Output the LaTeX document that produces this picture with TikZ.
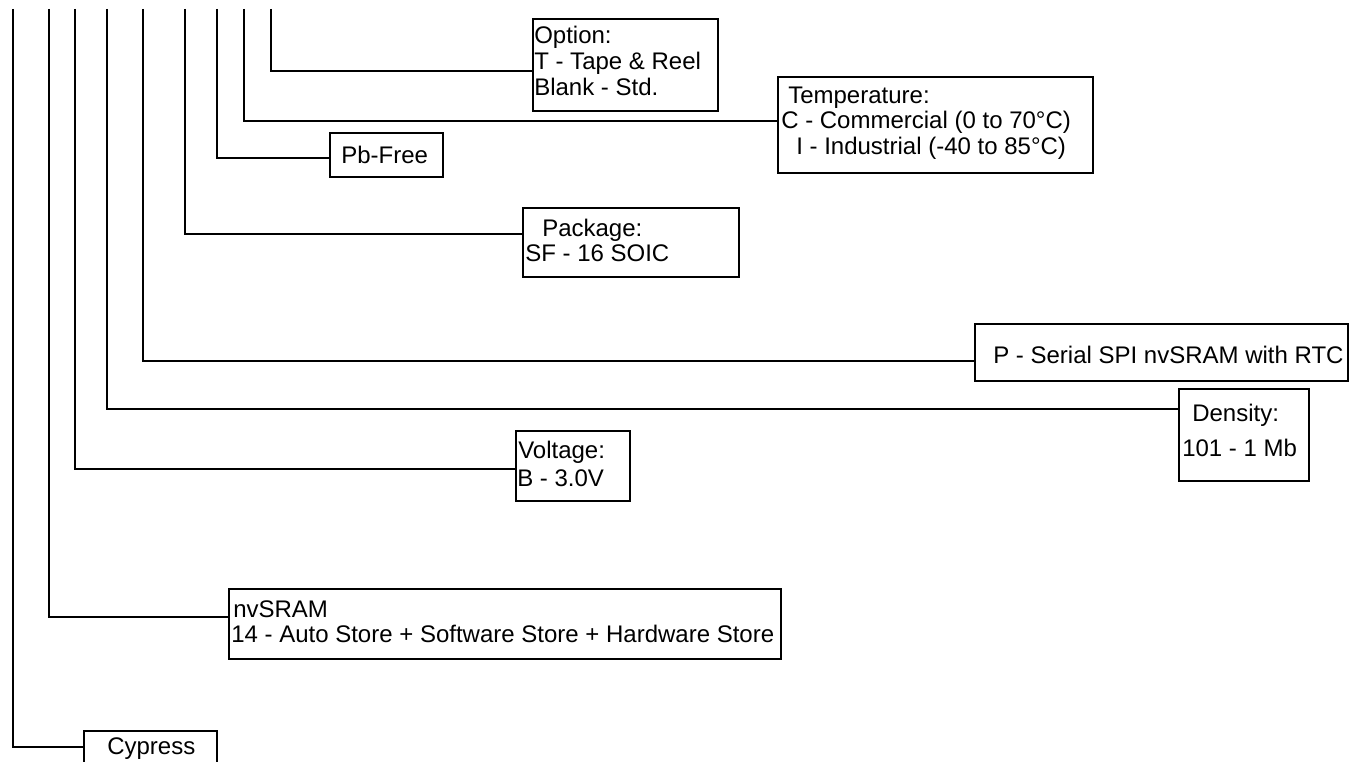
\documentclass[tikz,border=0pt]{standalone}
\usepackage{fontspec}
\setmainfont{Liberation Sans}
\usetikzlibrary{fit}
\begin{document}
\begin{tikzpicture}[x=0.75pt,y=-0.75pt,
  box/.style={draw,line width=1.3pt,inner sep=0pt},
  conn/.style={line width=1.3pt},
  txt/.style={anchor=base west,inner sep=0pt,font=\fontsize{18pt}{19.5pt}\selectfont}]
\clip (0,0) rectangle (1356,762);
% top ends of the vertical lines
\coordinate (v1) at (13,9);
\coordinate (v2) at (49,9);
\coordinate (v3) at (75,9);
\coordinate (v4) at (107,9);
\coordinate (v5) at (143,9);
\coordinate (v6) at (185,9);
\coordinate (v7) at (217,9);
\coordinate (v8) at (244,9);
\coordinate (v9) at (271,9);
% boxes
\node[box,fit={(533,19) (718,111)}] (opt) {};
\node[box,fit={(778,77) (1093,173)}] (temp) {};
\node[box,fit={(330,133) (443,177)}] (pb) {};
\node[box,fit={(523,208) (739,277)}] (pkg) {};
\node[box,fit={(975,324) (1348,381)}] (ser) {};
\node[box,fit={(1179,389) (1309,481)}] (den) {};
\node[box,fit={(516,431) (630,501)}] (volt) {};
\node[box,fit={(229,589) (781,659)}] (nv) {};
\node[box,fit={(84,731) (217,780)}] (cy) {};
% texts
\node[txt] (opt1) at (534,44) {Option:};
\node[txt] (opt2) at (534,70) {T - Tape \& Reel};
\node[txt] (opt3) at (534,96) {Blank - Std.};
\node[txt] (temp1) at (788,104) {Temperature:};
\node[txt] (temp2) at (781,129) {C - Commercial (0 to 70°C)};
\node[txt] (temp3) at (796,155) {I - Industrial (-40 to 85°C)};
\node[txt] (pb1) at (341,164) {Pb-Free};
\node[txt] (pkg1) at (542,237) {Package:};
\node[txt] (pkg2) at (525,262) {SF - 16 SOIC};
\node[txt] (ser1) at (993,364) {P - Serial SPI nvSRAM with RTC};
\node[txt] (den1) at (1192,422) {Density:};
\node[txt] (den2) at (1182,457) {101 - 1 Mb};
\node[txt] (volt1) at (518,459) {Voltage:};
\node[txt] (volt2) at (517,487) {B - 3.0V};
\node[txt] (nv1) at (233,617) {nvSRAM};
\node[txt] (nv2) at (231,642) {14 - Auto Store + Software Store + Hardware Store};
\node[txt] (cy1) at (107,754) {Cypress};
% connectors
\draw[conn] (v9) |- (opt.west |- 0,71);
\draw[conn] (v8) |- (temp.west |- 0,121);
\draw[conn] (v7) |- (pb.west |- 0,158);
\draw[conn] (v6) |- (pkg.west |- 0,234);
\draw[conn] (v5) |- (ser.west |- 0,361);
\draw[conn] (v4) |- (den.west |- 0,409);
\draw[conn] (v3) |- (volt.west |- 0,469);
\draw[conn] (v2) |- (nv.west |- 0,617);
\draw[conn] (v1) |- (cy.west |- 0,747);
\end{tikzpicture}
\end{document}
